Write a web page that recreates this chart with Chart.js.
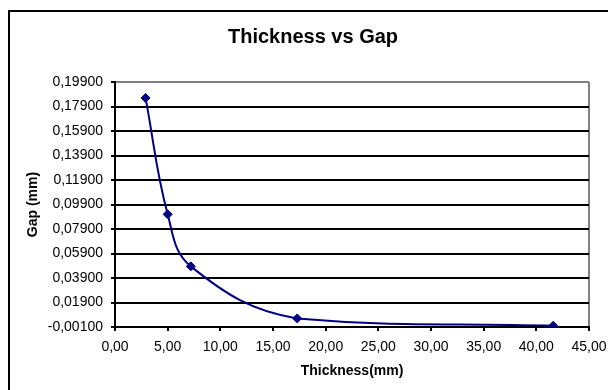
<!DOCTYPE html>
<html>
<head>
<meta charset="utf-8">
<script src="https://cdn.jsdelivr.net/npm/chart.js@4.4.1/dist/chart.umd.min.js"></script>
<style>
  html, body { margin: 0; padding: 0; background: #fff; }
  canvas { display: block; }
</style>
</head>
<body>
<canvas id="grafico" width="608" height="390"></canvas>
<script>
// valores
const espesores = [2.9, 5.0, 7.2, 17.3, 41.6];
const gaps = [0.186, 0.091, 0.0485, 0.006, 0.0];
const ticksX = [0, 5, 10, 15, 20, 25, 30, 35, 40, 45];
const ticksY = [-0.001, 0.019, 0.039, 0.059, 0.079, 0.099, 0.119, 0.139, 0.159, 0.179, 0.199];

const fuente = "'Liberation Sans', Arial, sans-serif";
const azul = '#000080';

const puntos = espesores.map((x, i) => ({ x: x, y: gaps[i] }));

// marco exterior del area del grafico (estilo Excel)
const marcoPlugin = {
    id: 'marco',
    beforeDraw(chart) {
        const ctx = chart.ctx;
        ctx.save();
        ctx.fillStyle = '#fff';
        ctx.fillRect(0, 0, chart.width, chart.height);
        ctx.strokeStyle = '#000';
        ctx.lineWidth = 2;
        ctx.strokeRect(9, 11, chart.width + 20, chart.height + 20);
        ctx.restore();
    }
};

const conComa = (v, dec) => v.toFixed(dec).replace('.', ',');

new Chart(document.getElementById('grafico').getContext('2d'), {
    type: 'scatter',
    data: {
        datasets: [{
            data: puntos,
            showLine: true,
            borderColor: azul,
            borderWidth: 2,
            backgroundColor: azul,
            pointStyle: 'rectRot',
            pointRadius: 4.5,
            pointBorderWidth: 1,
            tension: 0.4
        }]
    },
    options: {
        responsive: false,
        animation: false,
        layout: { padding: { left: 18, right: 0, top: 0, bottom: 0 } },
        plugins: {
            legend: { display: false },
            tooltip: { enabled: false },
            title: {
                display: true,
                text: 'Thickness vs Gap',
                color: '#000',
                font: { family: fuente, size: 20, weight: 'bold' },
                padding: { top: 25, bottom: 33 }
            }
        },
        scales: {
            x: {
                type: 'linear',
                min: 0,
                max: 45,
                afterBuildTicks: scale => { scale.ticks = ticksX.map(v => ({ value: v })); },
                afterFit: scale => { scale.height = 63; scale.paddingRight = 19; },
                grid: {
                    color: ctx => (ctx.tick && ctx.tick.value === 45) ? '#808080' : 'rgba(0,0,0,0)',
                    tickColor: '#000',
                    tickLength: 4,
                    lineWidth: 2
                },
                border: { color: '#000', width: 2 },
                ticks: {
                    color: '#000',
                    font: { family: fuente, size: 14 },
                    padding: 8,
                    maxRotation: 0,
                    callback: v => conComa(v, 2)
                },
                title: {
                    display: true,
                    text: 'Thickness(mm)',
                    color: '#000',
                    font: { family: fuente, size: 14, weight: 'bold' },
                    padding: { top: 4, bottom: 10 }
                }
            },
            y: {
                type: 'linear',
                min: -0.001,
                max: 0.199,
                afterBuildTicks: scale => { scale.ticks = ticksY.map(v => ({ value: v })); },
                afterFit: scale => { scale.width = 97; },
                grid: {
                    color: ctx => (ctx.tick && ctx.tick.value === 0.199) ? '#808080' : '#000',
                    tickColor: '#000',
                    tickLength: 4,
                    lineWidth: 2
                },
                border: { color: '#000', width: 2 },
                ticks: {
                    color: '#000',
                    font: { family: fuente, size: 14 },
                    padding: 8,
                    callback: v => conComa(v, 5)
                },
                title: {
                    display: true,
                    text: 'Gap (mm)',
                    color: '#000',
                    font: { family: fuente, size: 14, weight: 'bold' },
                    padding: { top: 7, bottom: 4 }
                }
            }
        }
    },
    plugins: [marcoPlugin]
});
</script>
</body>
</html>
